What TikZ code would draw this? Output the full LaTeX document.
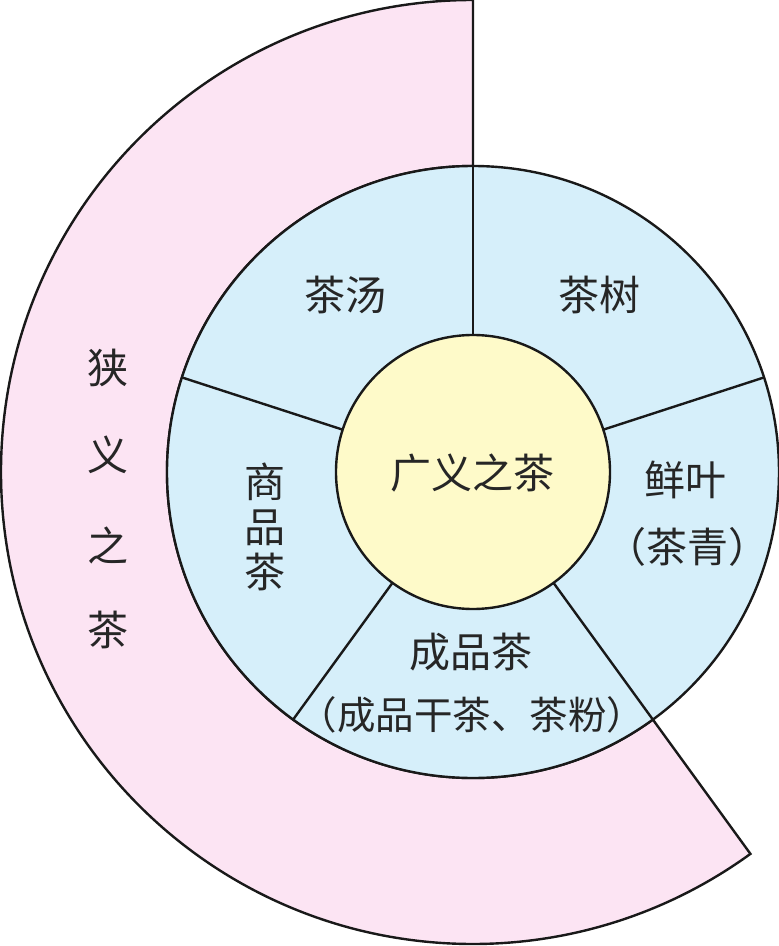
\documentclass[tikz,border=0pt]{standalone}
\usepackage{fontspec}
\newfontfamily\cjk{Noto Sans CJK SC}
\definecolor{pinkfill}{HTML}{FCE4F3}
\definecolor{bluefill}{HTML}{D6EFFA}
\definecolor{yellowfill}{HTML}{FEFAC9}
\begin{document}
\begin{tikzpicture}[x=1pt,y=1pt,
  ln/.style={line width=2.4pt,draw=black!90,line join=miter},
  lbl/.style={font=\cjk\fontsize{41}{45}\selectfont,text=black!85,inner sep=0pt,align=center}]
\useasboundingbox (-473,-474) rectangle (306,472);
\coordinate (c) at (0,0);
% narrow sense ring (pink)
\filldraw[ln,fill=pinkfill] (90:306) -- (90:472) arc[start angle=90,end angle=306,radius=472]
  -- (306:306) arc[start angle=306,end angle=90,radius=306] -- cycle;
% middle ring
\filldraw[ln,fill=bluefill] (c) circle[radius=306];
% spokes
\foreach \a/\n in {90/s1,18/s2,-54/s3,-126/s4,162/s5}{
  \coordinate (\n a) at (\a:137);
  \coordinate (\n b) at (\a:306);
  \draw[ln] (\n a) -- (\n b);
}
% inner circle
\filldraw[ln,fill=yellowfill] (c) circle[radius=137];
% labels
\node[lbl] (gy) at (0,-1) {广义之茶};
\node[lbl] (ct) at (-127,177) {茶汤};
\node[lbl] (cs) at (127,177) {茶树};
\node[lbl] (xy) at (213,-8) {鲜叶};
\node[lbl] (cq) at (215,-75) {（茶青）};
\node[lbl] (cp) at (-2,-180) {成品茶};
\node[lbl,font=\cjk\fontsize{38.5}{44}\selectfont] (cpd) at (-1,-243) {（成品干茶、茶粉）};
\node[lbl] (sp) at (-208,-55) {商\\品\\茶};
\node[lbl] (x1) at (-365,104) {狭};
\node[lbl] (x2) at (-365,17) {义};
\node[lbl] (x3) at (-365,-73) {之};
\node[lbl] (x4) at (-365,-158) {茶};
\end{tikzpicture}
\end{document}
